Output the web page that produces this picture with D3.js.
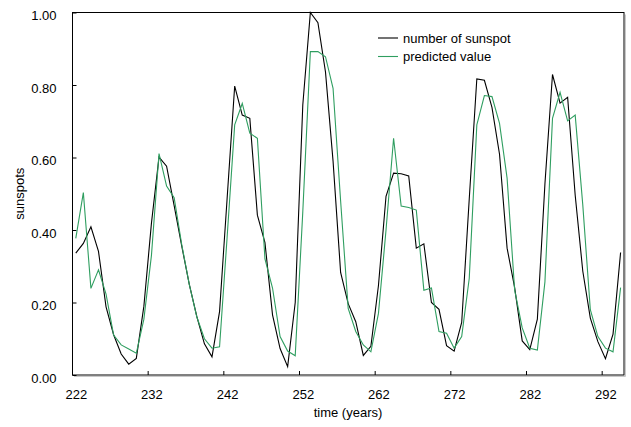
<!DOCTYPE html>
<html>
<head>
<meta charset="utf-8">
<script src="https://cdn.jsdelivr.net/npm/d3@7"></script>
<style>
    body { margin: 0; background: #fff; }
    text { font-family: "Liberation Sans", Arial, sans-serif; font-size: 13px; fill: #000; }
</style>
</head>
<body>
<script>
// years on the x axis (one point per year)
let years = [222, 223, 224, 225, 226, 227, 228, 229, 230, 231,
    232, 233, 234, 235, 236, 237, 238, 239, 240, 241,
    242, 243, 244, 245, 246, 247, 248, 249, 250, 251,
    252, 253, 254, 255, 256, 257, 258, 259, 260, 261,
    262, 263, 264, 265, 266, 267, 268, 269, 270, 271,
    272, 273, 274, 275, 276, 277, 278, 279, 280, 281,
    282, 283, 284, 285, 286, 287, 288, 289, 290, 291,
    292, 293, 294];

// normalised sunspot number
let sunspots = [0.336, 0.363, 0.409, 0.341, 0.188, 0.111, 0.058, 0.030, 0.046, 0.190,
    0.419, 0.601, 0.576, 0.467, 0.356, 0.250, 0.161, 0.086, 0.050, 0.175,
    0.487, 0.797, 0.717, 0.708, 0.441, 0.365, 0.166, 0.073, 0.023, 0.200,
    0.745, 1.000, 0.972, 0.836, 0.590, 0.283, 0.197, 0.147, 0.054, 0.079,
    0.247, 0.493, 0.557, 0.555, 0.549, 0.350, 0.362, 0.200, 0.181, 0.081,
    0.066, 0.145, 0.486, 0.817, 0.813, 0.738, 0.609, 0.350, 0.241, 0.094,
    0.070, 0.154, 0.527, 0.829, 0.750, 0.766, 0.496, 0.287, 0.157, 0.092,
    0.045, 0.113, 0.338];

// network output
let predicted = [0.377, 0.503, 0.239, 0.290, 0.223, 0.110, 0.083, 0.072, 0.060, 0.154,
    0.330, 0.611, 0.521, 0.489, 0.360, 0.250, 0.160, 0.100, 0.074, 0.078,
    0.380, 0.690, 0.749, 0.667, 0.653, 0.320, 0.240, 0.106, 0.066, 0.053,
    0.450, 0.892, 0.892, 0.878, 0.791, 0.480, 0.184, 0.120, 0.083, 0.064,
    0.170, 0.400, 0.653, 0.466, 0.462, 0.455, 0.234, 0.240, 0.120, 0.115,
    0.074, 0.106, 0.267, 0.690, 0.771, 0.768, 0.694, 0.543, 0.234, 0.130,
    0.074, 0.069, 0.257, 0.708, 0.780, 0.701, 0.717, 0.470, 0.180, 0.106,
    0.074, 0.064, 0.241];

let xTicks = [222, 232, 242, 252, 262, 272, 282, 292];
let yTicks = [0, 0.2, 0.4, 0.6, 0.8, 1.0];

let seriesNames = ["number of sunspot", "predicted value"];
let seriesColors = ["#000000", "#2f9e60"];

let width = 631,
    height = 427,
    plotLeft = 72,
    plotRight = 624,
    plotTop = 12.5,
    plotBottom = 375;

let svg = d3.select("body").append("svg")
    .attr("width", width)
    .attr("height", height);

let x = d3.scaleLinear().domain([221.5, 294.45]).range([plotLeft, plotRight]);
let y = d3.scaleLinear().domain([0, 1]).range([plotBottom, plotTop]);

// shadow + frame
svg.append("path")
    .attr("d", `M ${plotRight + 1.5} ${plotTop + 2} V ${plotBottom + 1.5} H ${plotLeft + 2}`)
    .attr("fill", "none")
    .attr("stroke", "#c8c8c8")
    .attr("stroke-width", 1);

svg.append("rect")
    .attr("x", plotLeft + 0.5)
    .attr("y", plotTop)
    .attr("width", plotRight - plotLeft - 0.5)
    .attr("height", plotBottom - plotTop)
    .attr("fill", "none")
    .attr("stroke", "#000")
    .attr("stroke-width", 1);

// x axis: labels on the year, tick mark on the year boundary
let xAxis = svg.append("g")
    .attr("transform", `translate(0, ${plotBottom})`)
    .call(d3.axisBottom(x).tickValues(xTicks).tickFormat(d3.format("d")).tickSize(-4).tickPadding(15));
xAxis.select(".domain").remove();
xAxis.selectAll(".tick line")
    .attr("stroke", "#000")
    .attr("transform", `translate(${x(221.5) - x(222)}, 0)`);
xAxis.selectAll("text").attr("font-size", null).attr("font-family", null);

let yAxis = svg.append("g")
    .attr("transform", `translate(${plotLeft + 0.5}, 0)`)
    .call(d3.axisLeft(y).tickValues(yTicks).tickFormat(d3.format(".2f")).tickSize(-4).tickPadding(16));
yAxis.select(".domain").remove();
yAxis.selectAll(".tick line").attr("stroke", "#000");
yAxis.selectAll("text").attr("dy", "0.55em").attr("font-size", null).attr("font-family", null);

// titles
svg.append("text")
    .attr("x", (plotLeft + plotRight) / 2)
    .attr("y", 417)
    .attr("text-anchor", "middle")
    .text("time (years)");

svg.append("text")
    .attr("transform", `translate(24, ${(plotTop + plotBottom) / 2}) rotate(-90)`)
    .attr("text-anchor", "middle")
    .text("sunspots");

// lines
let line = d3.line()
    .x((d, i) => x(years[i]))
    .y(d => y(d));

[sunspots, predicted].forEach(function (series, i) {
    svg.append("path")
        .datum(series)
        .attr("fill", "none")
        .attr("stroke", seriesColors[i])
        .attr("stroke-width", 1.1)
        .attr("stroke-linejoin", "miter")
        .attr("d", line);
});

// legend
let legend = svg.append("g").attr("transform", "translate(378, 38)");
seriesNames.forEach(function (name, i) {
    let row = legend.append("g").attr("transform", `translate(0, ${i * 18.5})`);
    row.append("line")
        .attr("x1", 0).attr("x2", 20)
        .attr("stroke", seriesColors[i])
        .attr("stroke-width", 1.1);
    row.append("text")
        .attr("x", 25)
        .attr("dy", "0.35em")
        .text(name);
});
</script>
</body>
</html>
